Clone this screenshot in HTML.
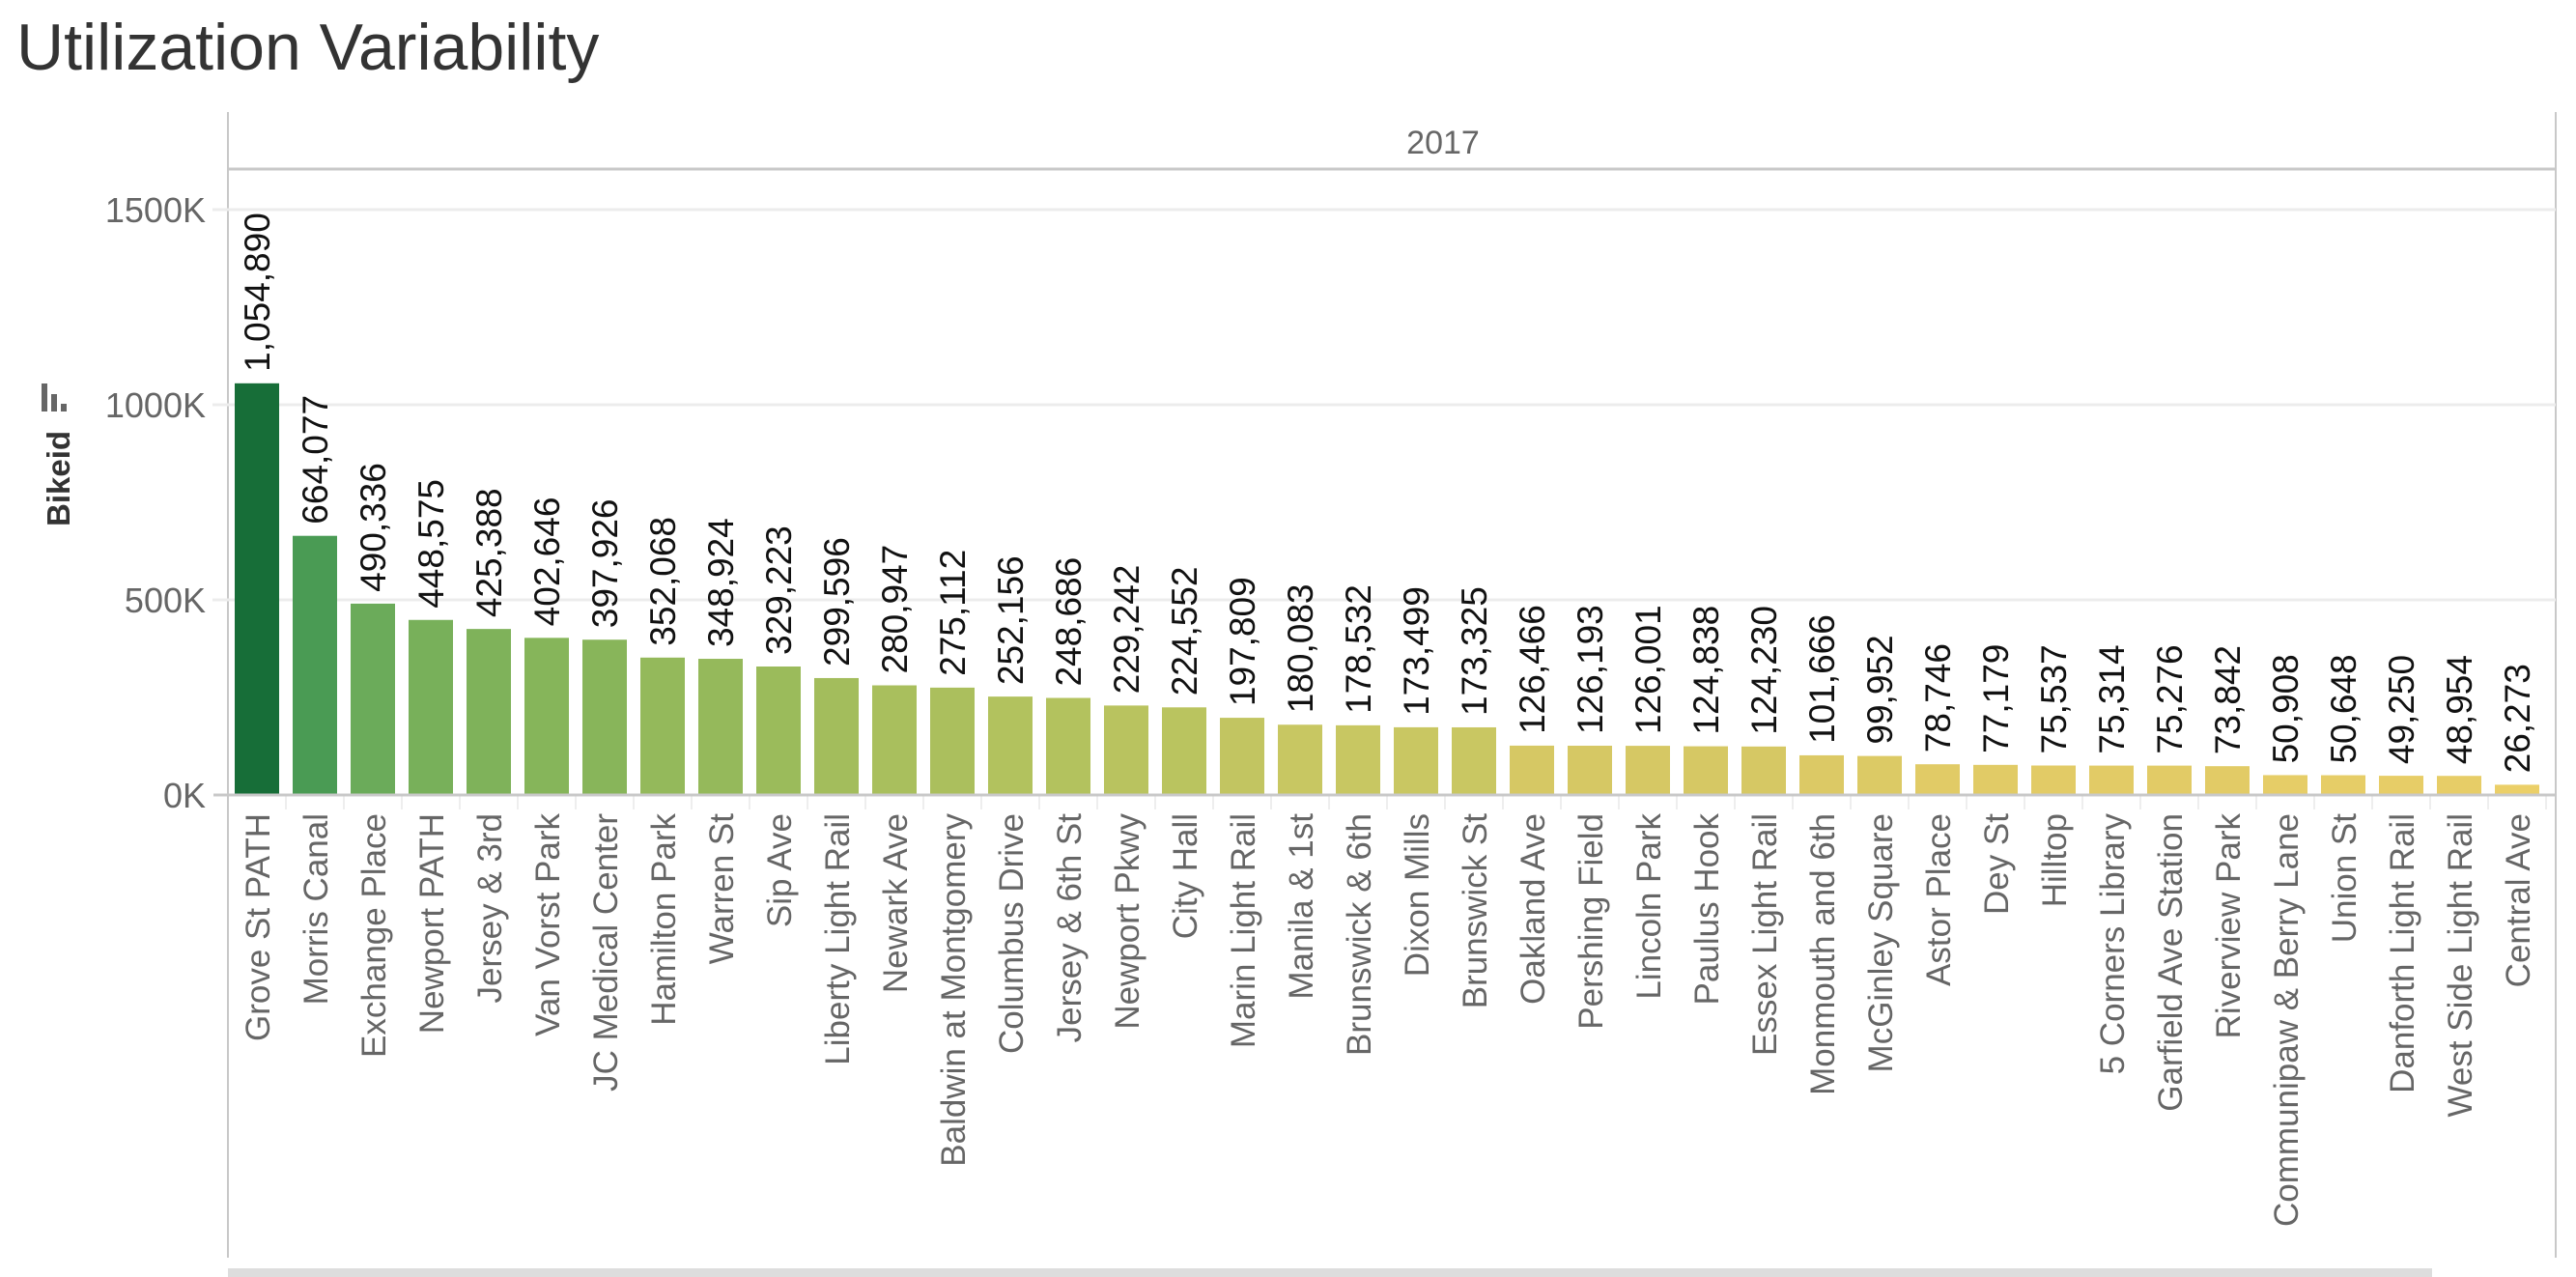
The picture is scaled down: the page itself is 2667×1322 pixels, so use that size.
<!DOCTYPE html>
<html><head><meta charset="utf-8"><style>
html,body{margin:0;padding:0;background:#fff;width:2667px;height:1322px;overflow:hidden}
svg{display:block;font-family:"Liberation Sans",sans-serif}
</style></head><body>
<svg id="chart" width="2667" height="1322" viewBox="0 0 2667 1322">
<text x="17" y="72" font-size="68" fill="#333">Utilization Variability</text>
<line x1="236" y1="116" x2="236" y2="1302" stroke="#c8c8c8" stroke-width="2"/>
<line x1="2646" y1="116" x2="2646" y2="1302" stroke="#c8c8c8" stroke-width="2"/>
<line x1="236" y1="175" x2="2647" y2="175" stroke="#c8c8c8" stroke-width="3"/>
<text x="1494" y="159" font-size="34" fill="#666" text-anchor="middle">2017</text>
<rect x="236" y="1313" width="2282" height="9" fill="#ddd"/>
<g id="grid"></g>
<g id="bars"></g>
<g id="xlabels"></g>
<line x1="221" y1="823" x2="2646" y2="823" stroke="#c8c8c8" stroke-width="3"/>
<g>
<rect x="43" y="397" width="6" height="29" fill="#666"/><rect x="53" y="408" width="6" height="18" fill="#666"/><rect x="63" y="418" width="6" height="8" fill="#666"/>
<text transform="translate(72,545) rotate(-90)" font-size="33" font-weight="bold" fill="#333">Bikeid</text>
</g>
</svg>
<script>
const categories=["Grove St PATH","Morris Canal","Exchange Place","Newport PATH","Jersey & 3rd","Van Vorst Park","JC Medical Center","Hamilton Park","Warren St","Sip Ave","Liberty Light Rail","Newark Ave","Baldwin at Montgomery","Columbus Drive","Jersey & 6th St","Newport Pkwy","City Hall","Marin Light Rail","Manila & 1st","Brunswick & 6th","Dixon Mills","Brunswick St","Oakland Ave","Pershing Field","Lincoln Park","Paulus Hook","Essex Light Rail","Monmouth and 6th","McGinley Square","Astor Place","Dey St","Hilltop","5 Corners Library","Garfield Ave Station","Riverview Park","Communipaw & Berry Lane","Union St","Danforth Light Rail","West Side Light Rail","Central Ave"];
const values=[1054890,664077,490336,448575,425388,402646,397926,352068,348924,329223,299596,280947,275112,252156,248686,229242,224552,197809,180083,178532,173499,173325,126466,126193,126001,124838,124230,101666,99952,78746,77179,75537,75314,75276,73842,50908,50648,49250,48954,26273];
const yTicks=[0,500000,1000000,1500000];
const yTickLabels=["0K","500K","1000K","1500K"];

const NS="http://www.w3.org/2000/svg";
const y0=823, pxPer=202/500000, x0=266, step=60, bw=46;
function y(v){return y0-v*pxPer;}
function xc(i){return x0+i*step;}
const stops=[[1055000,[23,110,56]],[664000,[74,155,84]],[490000,[107,171,90]],[400000,[135,181,90]],[300000,[163,189,92]],[250000,[179,194,94]],[175000,[201,199,98]],[126000,[214,200,100]],[75000,[226,203,102]],[26000,[235,207,104]]];
function color(v){
  if(v>=stops[0][0])return "rgb("+stops[0][1]+")";
  for(let i=0;i<stops.length-1;i++){const a=stops[i],b=stops[i+1];
    if(v<=a[0]&&v>=b[0]){const t=(v-b[0])/(a[0]-b[0]);
      return "rgb("+b[1].map((c,k)=>Math.round(c+(a[1][k]-c)*t)).join(",")+")";}}
  return "rgb("+stops[stops.length-1][1]+")";
}
function el(t,a){const e=document.createElementNS(NS,t);for(const k in a)e.setAttribute(k,a[k]);return e;}
const grid=document.getElementById("grid"),bars=document.getElementById("bars"),xl=document.getElementById("xlabels");
yTicks.forEach((t,i)=>{
  if(t>0){const g=el("line",{x1:220,y1:y(t),x2:2646,y2:y(t),stroke:"#ececec","stroke-width":3});
    
    
    grid.appendChild(g);}
  const tx=el("text",{x:213,y:y(t)+13,"font-size":36,fill:"#666","text-anchor":"end"});
  tx.textContent=yTickLabels[i];
  
  
  grid.appendChild(tx);
});
values.forEach((v,i)=>{
  const r=el("rect",{x:xc(i)-bw/2,y:y(v),width:bw,height:y0-y(v),fill:color(v)});
  
  
  bars.appendChild(r);
  const lb=el("text",{transform:"translate("+(xc(i)+13)+","+(y(v)-12)+") rotate(-90)","font-size":37,fill:"#111"});
  lb.textContent=v.toLocaleString("en-US");
  
  
  bars.appendChild(lb);
});
categories.forEach((c,i)=>{
  const tk=el("line",{x1:xc(i)+step/2,y1:823,x2:xc(i)+step/2,y2:838,stroke:"#eee","stroke-width":2});
  
  
  xl.appendChild(tk);
  const t=el("text",{transform:"translate("+(xc(i)+13)+",842) rotate(-90)","font-size":35,fill:"#666","text-anchor":"end"});
  t.textContent=c;
  
  
  xl.appendChild(t);
});
</script>
</body></html>
